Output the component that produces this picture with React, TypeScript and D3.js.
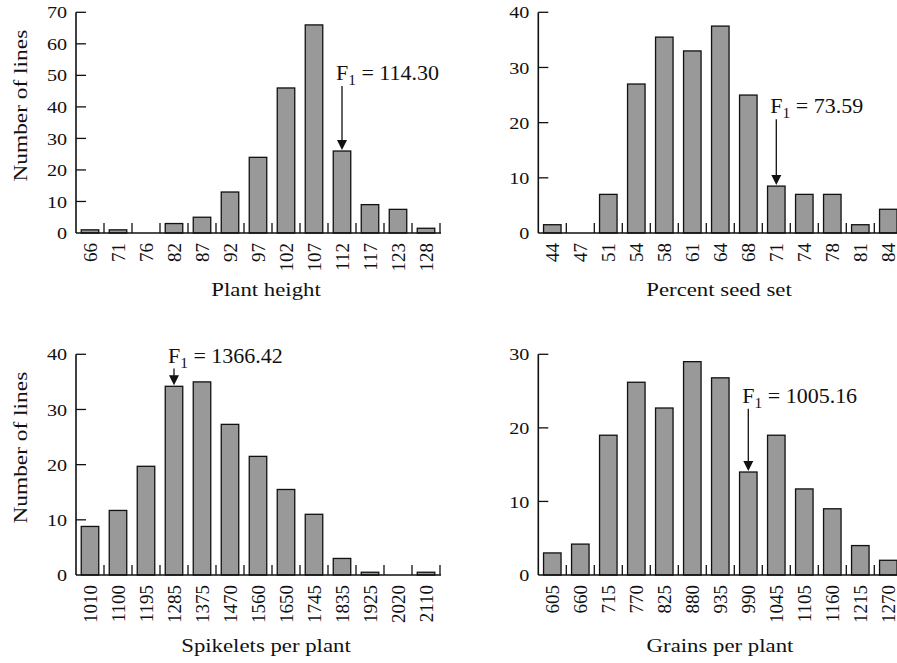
import * as d3 from 'd3'

// bin labels and line counts
const heightBins = ['66', '71', '76', '82', '87', '92', '97', '102', '107', '112', '117', '123', '128']
const heightCounts = [1, 1, 0, 3, 5, 13, 24, 46, 66, 26, 9, 7.5, 1.5]
const heightTicks = [0, 10, 20, 30, 40, 50, 60, 70]

const seedBins = ['44', '47', '51', '54', '58', '61', '64', '68', '71', '74', '78', '81', '84']
const seedCounts = [1.5, 0, 7, 27, 35.5, 33, 37.5, 25, 8.5, 7, 7, 1.5, 4.3]
const seedTicks = [0, 10, 20, 30, 40]

const spikeletBins = ['1010', '1100', '1195', '1285', '1375', '1470', '1560', '1650', '1745', '1835', '1925', '2020', '2110']
const spikeletCounts = [8.8, 11.7, 19.7, 34.2, 35, 27.3, 21.5, 15.5, 11, 3, 0.5, 0, 0.5]
const spikeletTicks = [0, 10, 20, 30, 40]

const grainBins = ['605', '660', '715', '770', '825', '880', '935', '990', '1045', '1105', '1160', '1215', '1270']
const grainCounts = [3, 4.2, 19, 26.2, 22.7, 29, 26.8, 14, 19, 11.7, 9, 4, 2]
const grainTicks = [0, 10, 20, 30]

const titles = ['Plant height', 'Percent seed set', 'Spikelets per plant', 'Grains per plant']
// F1 parent value, the bin it points at, and the level (in counts) of the label baseline
const f1Values = ['114.30', '73.59', '1366.42', '1005.16']
const f1Bins = ['112', '71', '1285', '990']
const f1Levels = [48.5, 21.7, 38.5, 23.4]

const FONT = '"Liberation Serif", "Times New Roman", serif'

interface PanelProps {
  bins: string[]
  counts: number[]
  ticks: number[]
  title: string
  f1: string
  f1Bin: string
  f1Level: number
  x0: number
  yTop: number
  y0: number
  titleX: number
  titleY: number
  showYLabel: boolean
}

function Panel(p: PanelProps) {
  const x = d3
    .scaleBand<string>()
    .domain(p.bins)
    .range([p.x0, p.x0 + 364])
    .paddingInner(0.375)
    .paddingOuter(0.1875)
  const y = d3
    .scaleLinear()
    .domain([0, d3.max(p.ticks) as number])
    .range([p.y0, p.yTop])
  const step = x.step()
  const bw = x.bandwidth()
  const cx = (b: string) => (x(b) as number) + bw / 2

  const arrowX = cx(p.f1Bin)
  const arrowTop = y(p.f1Level) + 6
  const barTop = y(p.counts[p.bins.indexOf(p.f1Bin)]) - 1

  return (
    <g>
      {/* bars */}
      {p.bins.map((b, i) =>
        p.counts[i] > 0 ? (
          <rect
            key={b}
            x={x(b)}
            y={y(p.counts[i])}
            width={bw}
            height={p.y0 - y(p.counts[i])}
            fill="#999999"
            stroke="#111"
            strokeWidth={1.3}
          />
        ) : null,
      )}

      {/* x axis with upward separator ticks */}
      <line x1={p.x0} x2={p.x0 + 365} y1={p.y0} y2={p.y0} stroke="#111" strokeWidth={1.6} />
      {p.bins.map((b) => {
        const tx = (x(b) as number) + bw + (step - bw) / 2
        return <line key={'t' + b} x1={tx} x2={tx} y1={p.y0} y2={p.y0 - 10} stroke="#111" strokeWidth={1.3} />
      })}

      {/* y axis */}
      <line x1={p.x0} x2={p.x0} y1={p.y0} y2={p.yTop} stroke="#111" strokeWidth={1.6} />
      {p.ticks.map((t) => (
        <g key={'y' + t}>
          {t > 0 && <line x1={p.x0} x2={p.x0 + 10} y1={y(t)} y2={y(t)} stroke="#111" strokeWidth={1.3} />}
          <text
            transform={`translate(${p.x0 - 9},${y(t)}) scale(1.15,1)`}
            textAnchor="end"
            dy="0.35em"
            fontSize={17.5}
            fontFamily={FONT}
            fill="#111"
          >
            {t}
          </text>
        </g>
      ))}

      {/* rotated bin labels */}
      {p.bins.map((b) => (
        <text
          key={'l' + b}
          transform={`translate(${cx(b)},${p.y0 + 10}) rotate(-90)`}
          textAnchor="end"
          dy="0.35em"
          fontSize={19}
          fontFamily={FONT}
          fill="#111"
        >
          {b}
        </text>
      ))}

      {/* axis title */}
      <text
        transform={`translate(${p.titleX},${p.titleY}) scale(1.2,1)`}
        textAnchor="middle"
        fontSize={19}
        fontFamily={FONT}
        fill="#111"
      >
        {p.title}
      </text>

      {p.showYLabel && (
        <text
          transform={`translate(27,${(p.y0 + p.yTop) / 2 - 17}) rotate(-90) scale(1.23,1)`}
          textAnchor="middle"
          fontSize={19}
          fontFamily={FONT}
          fill="#111"
        >
          Number of lines
        </text>
      )}

      {/* F1 annotation */}
      <text
        transform={`translate(${arrowX - 6},${y(p.f1Level)}) scale(1.1,1)`}
        fontSize={20}
        fontFamily={FONT}
        fill="#111"
      >
        F
        <tspan fontSize={14} dy={5}>
          1
        </tspan>
        <tspan dy={-5}>{' = ' + p.f1}</tspan>
      </text>
      <line x1={arrowX} x2={arrowX} y1={arrowTop} y2={barTop - 8} stroke="#111" strokeWidth={1.3} />
      <path
        d={`M${arrowX - 5},${barTop - 10} L${arrowX + 5},${barTop - 10} L${arrowX},${barTop} Z`}
        fill="#111"
      />
    </g>
  )
}

export default function App() {
  const data = [
    { bins: heightBins, counts: heightCounts, ticks: heightTicks },
    { bins: seedBins, counts: seedCounts, ticks: seedTicks },
    { bins: spikeletBins, counts: spikeletCounts, ticks: spikeletTicks },
    { bins: grainBins, counts: grainCounts, ticks: grainTicks },
  ]
  // panel placement: left column axis at 76, right column at 538
  const layout = [
    { x0: 76, yTop: 12.3, y0: 233, titleX: 266, titleY: 296, showYLabel: true },
    { x0: 538.3, yTop: 12.3, y0: 233, titleX: 719, titleY: 296, showYLabel: false },
    { x0: 76, yTop: 354.3, y0: 575, titleX: 266, titleY: 652, showYLabel: true },
    { x0: 538.3, yTop: 354.3, y0: 575, titleX: 720, titleY: 652, showYLabel: false },
  ]

  return (
    <svg
      width={897}
      height={663}
      style={{ position: 'absolute', left: 0, top: 0, background: '#fff' }}
    >
      {data.map((d, i) => (
        <Panel
          key={titles[i]}
          {...d}
          {...layout[i]}
          title={titles[i]}
          f1={f1Values[i]}
          f1Bin={f1Bins[i]}
          f1Level={f1Levels[i]}
        />
      ))}
    </svg>
  )
}
